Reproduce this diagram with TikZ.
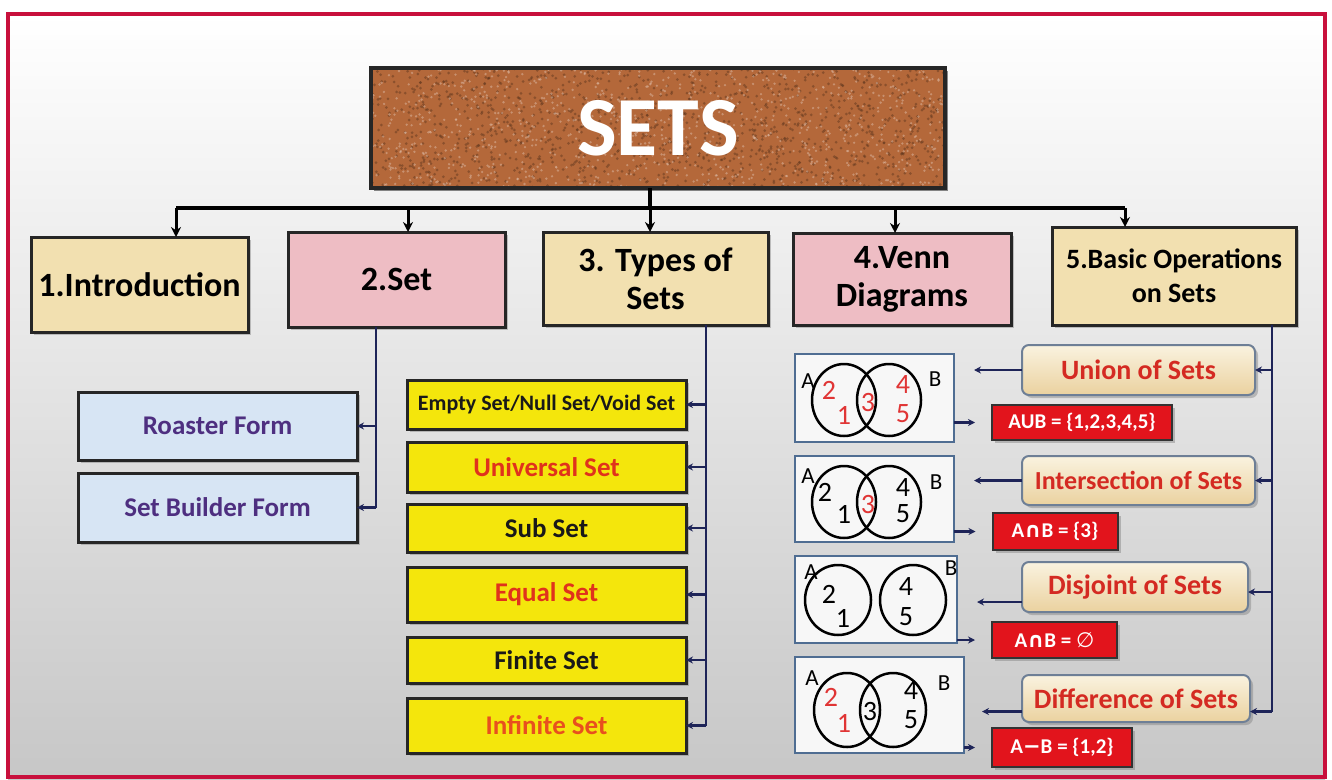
\documentclass[tikz,border=0pt]{standalone}
\usepackage{fontspec}
\setmainfont{Carlito}
\newfontfamily\symf{DejaVu Sans}
\usetikzlibrary{arrows.meta,shadows}
\definecolor{framec}{HTML}{C8103C}
\definecolor{cork}{HTML}{B4683A}
\definecolor{beige}{HTML}{F2E0B0}
\definecolor{pinkb}{HTML}{EEBDC4}
\definecolor{skyb}{HTML}{D7E5F4}
\definecolor{yel}{HTML}{F4E60C}
\definecolor{navy}{HTML}{1E2458}
\definecolor{redtxt}{HTML}{E0321C}
\definecolor{orangered}{HTML}{E8501E}
\definecolor{purp}{HTML}{4E2F80}
\definecolor{vbord}{HTML}{4F6D92}
\definecolor{resred}{HTML}{E2141C}
\definecolor{opred}{HTML}{D42A22}
\definecolor{opbord}{HTML}{6E7F96}
\definecolor{numred}{HTML}{E03535}
\begin{document}
\begin{tikzpicture}[x=1pt,y=-1pt,
  every node/.style={inner sep=0pt, outer sep=0pt},
  sh/.style={drop shadow={shadow xshift=3pt, shadow yshift=-3pt, opacity=.45}},
  rootbox/.style={draw=black!85, line width=3.5pt, text=white, font=\bfseries\fontsize{84}{90}\selectfont},
  topbox/.style={draw=black!85, line width=3pt, align=center, font=\bfseries\fontsize{34}{38}\selectfont, sh},
  formbox/.style={draw=black!85, line width=3pt, fill=skyb, text=purp, font=\bfseries\fontsize{27}{30}\selectfont, minimum width=279, sh},
  typebox/.style={draw=black!85, line width=3pt, fill=yel, text=black!90, font=\bfseries\fontsize{27}{30}\selectfont, minimum width=279, sh},
  opbox/.style={draw=opbord, line width=2pt, rounded corners=7pt, top color=white!60!beige, bottom color=beige!85!brown, text=opred, font=\bfseries\fontsize{28}{30}\selectfont, sh},
  resbox/.style={draw=black!80, line width=2pt, fill=resred, text=white, font=\bfseries\fontsize{21}{22}\selectfont, sh},
  vbox/.style={draw=vbord, line width=2pt, fill=white!97!black},
  vc/.style={draw=black, line width=2.5pt},
  vn/.style={font=\fontsize{28}{30}\selectfont},
  vl/.style={font=\fontsize{23}{24}\selectfont},
  bus/.style={line width=3.5pt, black},
  busarr/.style={line width=3pt, black, -{Stealth[length=10pt,width=10pt]}},
  conn/.style={navy, line width=2.2pt},
  connarr/.style={conn, -{Stealth[length=7pt,width=7pt]}}
]
\useasboundingbox (0,0) rectangle (1332,779);
\fill[white] (0,0) rectangle (1332,779);
\shade[top color=white, middle color=black!4, bottom color=black!22] (8,14) rectangle (1325,779);
\draw[framec, line width=4pt] (8,14) rectangle (1325,777);

% root: shadow, cork fill, speckles, then framed label
\fill[black, opacity=.45] (374,71) rectangle (948,191);
\fill[cork] (371,68) rectangle (945,188);
\begin{scope}
  \clip (371,68) rectangle (945,188);
  \pgfmathsetseed{7}
  \foreach \i in {1,...,1400}{\fill[cork!50!black, opacity=.45] (658+295*rand, 128+65*rand) circle (1.5pt);}
  \foreach \i in {1,...,1100}{\fill[cork!45!white, opacity=.5] (658+295*rand, 128+65*rand) circle (1.3pt);}
\end{scope}
\node[rootbox, minimum width=574, minimum height=120] (sets) at (658,128) {SETS};

% level 1
\node[topbox, fill=beige, minimum width=217, minimum height=95] (intro) at (139.5,284.5) {1.Introduction};
\node[topbox, fill=pinkb, minimum width=217, minimum height=95] (set) at (396.5,279.5) {2.Set};
\node[topbox, fill=beige, minimum width=225, minimum height=93] (types) at (655.5,278.5) {3. Types of\\Sets};
\node[topbox, fill=pinkb, minimum width=218, minimum height=92] (venn) at (902,279) {4.Venn\\Diagrams};
\node[topbox, fill=beige, minimum width=244, minimum height=98, font=\bfseries\fontsize{28}{34}\selectfont] (basic) at (1174,276) {5.Basic Operations\\on Sets};

% bus
\coordinate (b1) at (176,208);
\coordinate (b2) at (408,208);
\coordinate (b3) at (650,208);
\coordinate (b4) at (895,208);
\coordinate (b5) at (1125,208);
\draw[bus] (sets.south -| b3) -- (b3);
\draw[bus] (b1) -- (b5);
\foreach \n/\t in {b1/intro, b2/set, b3/types, b4/venn, b5/basic}
  \draw[busarr] (\n) -- (\n |- \t.north);

% forms
\node[formbox, minimum height=68] (roaster) at (217.5,426) {Roaster Form};
\node[formbox, minimum height=69] (builder) at (217.5,507.5) {Set Builder Form};
\coordinate (lx) at (376,0);
\draw[conn] (set.south -| lx) -- (builder.east -| lx);
\foreach \b in {roaster, builder}
  \draw[connarr] (\b.east -| lx) -- (\b.east);

% types
\node[typebox, minimum height=49, font=\bfseries\fontsize{22}{24}\selectfont] (empty) at (546.5,404.5) {Empty Set/Null Set/Void Set};
\node[typebox, minimum height=50, text=redtxt] (universal) at (546.5,467) {Universal Set};
\node[typebox, minimum height=48] (subset) at (546.5,528) {Sub Set};
\node[typebox, minimum height=55, text=redtxt] (equal) at (546.5,594.5) {Equal Set};
\node[typebox, minimum height=46] (finite) at (546.5,660) {Finite Set};
\node[typebox, minimum height=55, text=orangered] (infinite) at (546.5,725.5) {Infinite Set};
\coordinate (tx) at (706,0);
\draw[conn] (types.south -| tx) -- (infinite.east -| tx);
\foreach \b in {empty, universal, subset, equal, finite, infinite}
  \draw[connarr] (\b.east -| tx) -- (\b.east);

% operations
\node[opbox, minimum width=233, minimum height=50] (union) at (1138.5,370) {Union of Sets};
\node[opbox, minimum width=233, minimum height=49, font=\bfseries\fontsize{26}{28}\selectfont] (inter) at (1138.5,480.5) {Intersection of Sets};
\node[opbox, minimum width=226, minimum height=50] (disj) at (1135,587) {Disjoint of Sets};
\node[opbox, minimum width=228, minimum height=47] (diff) at (1136,698.5) {Difference of Sets};

% venn boxes
\node[vbox, minimum width=159, minimum height=88] (v1) at (874.5,398) {};
\node[vbox, minimum width=159, minimum height=86] (v2) at (874.5,499) {};
\node[vbox, minimum width=162, minimum height=87] (v3) at (876,599.5) {};
\node[vbox, minimum width=169, minimum height=96] (v4) at (879.5,705) {};

% results
\node[resbox, minimum width=180, minimum height=35] (r1) at (1082,422.5) {AUB = \{1,2,3,4,5\}};
\node[resbox, minimum width=125, minimum height=37] (r2) at (1055,531.5) {A{\symf ∩}B = \{3\}};
\node[resbox, minimum width=125, minimum height=36] (r3) at (1054.5,640) {A{\symf ∩}B = {\symf\mdseries ∅}};
\node[resbox, minimum width=140, minimum height=39] (r4) at (1062,747.5) {A{\symf −}B = \{1,2\}};

% right connectors
\coordinate (rx) at (1272,0);
\coordinate (disje) at ([yshift=-5pt]disj.east);
\coordinate (diffe) at ([yshift=-13pt]diff.east);
\draw[conn] (basic.south -| rx) -- (diffe -| rx);
\draw[connarr] (union.east -| rx) -- (union.east);
\draw[connarr] (inter.east -| rx) -- (inter.east);
\draw[connarr] (disje -| rx) -- (disje);
\draw[connarr] (diffe -| rx) -- (diffe);

\coordinate (disjw) at ([yshift=-15pt]disj.west);
\coordinate (diffw) at ([yshift=-13pt]diff.west);
\draw[connarr, shorten >=20pt] (union.west) -- (union.west -| v1.east);
\draw[connarr, shorten >=20pt] (inter.west) -- (inter.west -| v2.east);
\draw[connarr, shorten >=20pt] (disjw) -- (disjw -| v3.east);
\draw[connarr, shorten >=18pt] (diffw) -- (diffw -| v4.east);

\draw[connarr, shorten >=17pt] (v1.east |- r1.west) -- (r1.west);
\draw[connarr, shorten >=17pt] (v2.east |- r2.west) -- (r2.west);
\draw[connarr, shorten >=17pt] (v3.east |- r3.west) -- (r3.west);
\draw[connarr, shorten >=17pt] (v4.east |- r4.west) -- (r4.west);

% venn 1
\draw[vc] (844,400) ellipse [x radius=32pt, y radius=36pt];
\draw[vc] (889,400) ellipse [x radius=32pt, y radius=36pt];
\node[vl] (v1A) at (808,381) {A};
\node[vl] (v1B) at (935,379) {B};
\foreach \nm/\px/\py/\t in {v1n2/829/390/2, v1n1/844/415/1, v1n3/868/403/3, v1n4/903/385/4, v1n5/903/414/5}
  \node[vn, text=numred] (\nm) at (\px,\py) {\t};

% venn 2
\draw[vc] (844,502) ellipse [x radius=32pt, y radius=36pt];
\draw[vc] (889,502) ellipse [x radius=32pt, y radius=36pt];
\node[vl] (v2A) at (808,476) {A};
\node[vl] (v2B) at (936,482) {B};
\foreach \nm/\px/\py/\t/\c in {v2n2/825/492/2/black, v2n1/844/514/1/black, v2n3/868/505/3/numred, v2n4/903/488/4/black, v2n5/903/514/5/black}
  \node[vn, text=\c] (\nm) at (\px,\py) {\t};

% venn 3
\draw[vc] (838,600) ellipse [x radius=33pt, y radius=35pt];
\draw[vc] (913,600) ellipse [x radius=33pt, y radius=35pt];
\node[vl] (v3A) at (811,572) {A};
\node[vl] (v3B) at (951,568) {B};
\foreach \nm/\px/\py/\t in {v3n2/829/594/2, v3n1/843/618/1, v3n4/906/587/4, v3n5/906/617/5}
  \node[vn] (\nm) at (\px,\py) {\t};

% venn 4
\draw[vc] (847,710) ellipse [x radius=33pt, y radius=37pt];
\draw[vc] (893,710) ellipse [x radius=33pt, y radius=37pt];
\node[vl] (v4A) at (812,678) {A};
\node[vl] (v4B) at (944,683) {B};
\foreach \nm/\px/\py/\t/\c in {v4n2/831/697/2/numred, v4n1/844/723/1/numred, v4n3/870/711/3/black, v4n4/911/690/4/black, v4n5/911/720/5/black}
  \node[vn, text=\c] (\nm) at (\px,\py) {\t};
\end{tikzpicture}
\end{document}
